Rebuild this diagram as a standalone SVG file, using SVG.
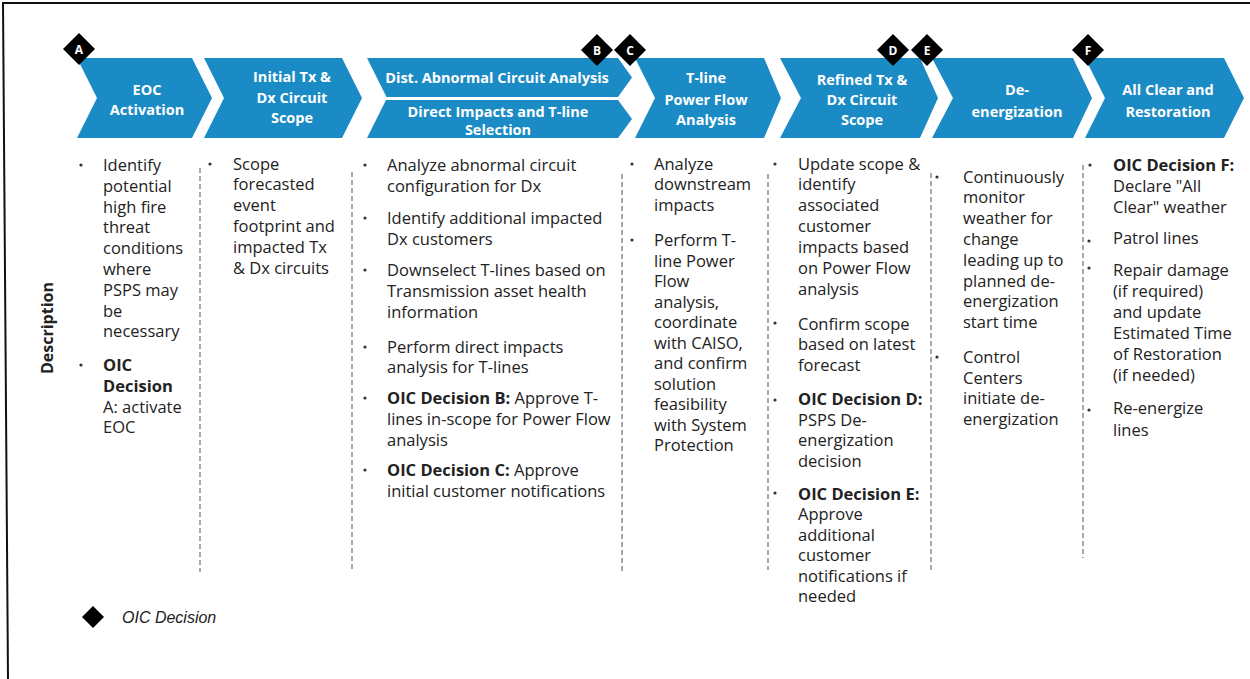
<svg xmlns="http://www.w3.org/2000/svg" width="1250" height="679" viewBox="0 0 1250 679">
  <style>
    .chev { fill: #1a8bc5; }
    .title { font-family: "Open Sans", "Noto Sans", sans-serif; font-weight: 700; font-size: 14.5px; fill: #ffffff; text-anchor: middle; }
    .body { font-family: "Open Sans", "Noto Sans", sans-serif; font-size: 16.5px; fill: #222222; }
    .bold { font-weight: 700; }
    .dot { fill: #333333; }
    .sep { stroke: #7a7a7a; stroke-width: 1.3; stroke-dasharray: 5 3; fill: none; }
    .dia { fill: #000000; }
    .dlabel { font-family: "Open Sans", "Noto Sans", sans-serif; font-weight: 700; font-size: 12px; fill: #ffffff; text-anchor: middle; }
    .side { font-family: "Open Sans", "Noto Sans", sans-serif; font-weight: 700; font-size: 16px; fill: #222222; text-anchor: middle; }
    .legend { font-family: "Liberation Sans", Arial, sans-serif; font-style: italic; font-size: 16px; fill: #222222; }
  </style>
  <defs>
    <path id="diamond" d="M0,-16 L16,0 L0,16 L-16,0 Z"/>
  </defs>

  <rect width="1250" height="679" fill="#ffffff"/>
  <!-- outer frame (top and left edges only) -->
  <polyline points="8,679 3,3 1250,3" fill="none" stroke="#111111" stroke-width="2"/>

  <!-- dashed column separators -->
  <g id="connectors">
    <line class="sep" x1="200" y1="168" x2="200" y2="572"/>
    <line class="sep" x1="352" y1="172" x2="352" y2="572"/>
    <line class="sep" x1="622" y1="174" x2="622" y2="572"/>
    <line class="sep" x1="768" y1="174" x2="768" y2="570"/>
    <line class="sep" x1="931" y1="173" x2="931" y2="570"/>
    <line class="sep" x1="1083" y1="165" x2="1083" y2="558"/>
  </g>

  <!-- phase chevrons -->
  <g id="eoc-activation">
    <polygon class="chev" points="77,58 192,58 212,98 192,138 77,138 97,98"/>
    <text class="title" x="147" y="95">EOC</text>
    <text class="title" x="147" y="115">Activation</text>
  </g>
  <g id="initial-scope">
    <polygon class="chev" points="204,58 342,58 362,98 342,138 204,138 224,98"/>
    <text class="title" x="292" y="82">Initial Tx &amp;</text>
    <text class="title" x="292" y="103">Dx Circuit</text>
    <text class="title" x="292" y="123">Scope</text>
  </g>
  <g id="dist-abnormal">
    <polygon class="chev" points="367,58 618,58 632,77.5 618,97 386.5,97"/>
    <text class="title" x="497" y="83">Dist. Abnormal Circuit Analysis</text>
  </g>
  <g id="direct-impacts">
    <polygon class="chev" points="386,100 618,100 632,119 618,138 367,138"/>
    <text class="title" x="498" y="117">Direct Impacts and T-line</text>
    <text class="title" x="498" y="135">Selection</text>
  </g>
  <g id="power-flow">
    <polygon class="chev" points="635,58 764,58 781,98 764,138 635,138 655,98"/>
    <text class="title" x="706" y="83">T-line</text>
    <text class="title" x="706" y="105">Power Flow</text>
    <text class="title" x="706" y="125">Analysis</text>
  </g>
  <g id="refined-scope">
    <polygon class="chev" points="780,58 920,58 938,98 920,138 780,138 801,98"/>
    <text class="title" x="862" y="85">Refined Tx &amp;</text>
    <text class="title" x="862" y="105">Dx Circuit</text>
    <text class="title" x="862" y="125">Scope</text>
  </g>
  <g id="de-energization">
    <polygon class="chev" points="932,58 1073,58 1092,98 1073,138 932,138 953,98"/>
    <text class="title" x="1017" y="95">De-</text>
    <text class="title" x="1017" y="117">energization</text>
  </g>
  <g id="all-clear">
    <polygon class="chev" points="1085,58 1224,58 1244,98 1224,138 1085,138 1105,98"/>
    <text class="title" x="1168" y="95">All Clear and</text>
    <text class="title" x="1168" y="117">Restoration</text>
  </g>

  <!-- decision markers -->
  <g id="decision-a"><use href="#diamond" class="dia" x="79" y="49"/><text class="dlabel" x="79" y="53.5">A</text></g>
  <g id="decision-b"><use href="#diamond" class="dia" x="597" y="50"/><text class="dlabel" x="597" y="54.5">B</text></g>
  <g id="decision-c"><use href="#diamond" class="dia" x="630" y="50"/><text class="dlabel" x="630" y="54.5">C</text></g>
  <g id="decision-d"><use href="#diamond" class="dia" x="893" y="50"/><text class="dlabel" x="893" y="54.5">D</text></g>
  <g id="decision-e"><use href="#diamond" class="dia" x="927" y="50"/><text class="dlabel" x="927" y="54.5">E</text></g>
  <g id="decision-f"><use href="#diamond" class="dia" x="1088" y="50"/><text class="dlabel" x="1088" y="54.5">F</text></g>

  <!-- row label -->
  <text class="side" transform="translate(53,328) rotate(-90)">Description</text>

  <!-- column 1 -->
  <g id="desc-eoc" class="body">
    <circle class="dot" cx="81" cy="165" r="1.6"/>
    <circle class="dot" cx="81" cy="365" r="1.6"/>
    <text x="103" y="171">Identify</text>
    <text x="103" y="191.8">potential</text>
    <text x="103" y="212.6">high fire</text>
    <text x="103" y="233.4">threat</text>
    <text x="103" y="254.2">conditions</text>
    <text x="103" y="275">where</text>
    <text x="103" y="295.8">PSPS may</text>
    <text x="103" y="316.6">be</text>
    <text x="103" y="337.4">necessary</text>
    <text x="103" y="371" class="bold">OIC</text>
    <text x="103" y="391.8" class="bold">Decision</text>
    <text x="103" y="412.6">A: activate</text>
    <text x="103" y="433.4">EOC</text>
  </g>

  <!-- column 2 -->
  <g id="desc-initial" class="body">
    <circle class="dot" cx="210" cy="164" r="1.6"/>
    <text x="233" y="169.5">Scope</text>
    <text x="233" y="190.4">forecasted</text>
    <text x="233" y="211.3">event</text>
    <text x="233" y="232.2">footprint and</text>
    <text x="233" y="253.1">impacted Tx</text>
    <text x="233" y="274">&amp; Dx circuits</text>
  </g>

  <!-- column 3 -->
  <g id="desc-dist" class="body">
    <circle class="dot" cx="365" cy="165" r="1.6"/>
    <circle class="dot" cx="365" cy="218" r="1.6"/>
    <circle class="dot" cx="365" cy="270" r="1.6"/>
    <circle class="dot" cx="365" cy="347" r="1.6"/>
    <circle class="dot" cx="365" cy="398" r="1.6"/>
    <circle class="dot" cx="365" cy="470" r="1.6"/>
    <text x="387" y="171">Analyze abnormal circuit</text>
    <text x="387" y="192">configuration for Dx</text>
    <text x="387" y="223.5">Identify additional impacted</text>
    <text x="387" y="244.5">Dx customers</text>
    <text x="387" y="276">Downselect T-lines based on</text>
    <text x="387" y="297">Transmission asset health</text>
    <text x="387" y="318">information</text>
    <text x="387" y="352.5">Perform direct impacts</text>
    <text x="387" y="373">analysis for T-lines</text>
    <text x="387" y="404"><tspan class="bold">OIC Decision B:</tspan> Approve T-</text>
    <text x="387" y="425">lines in-scope for Power Flow</text>
    <text x="387" y="446">analysis</text>
    <text x="387" y="476"><tspan class="bold">OIC Decision C:</tspan> Approve</text>
    <text x="387" y="497">initial customer notifications</text>
  </g>

  <!-- column 4 -->
  <g id="desc-powerflow" class="body">
    <circle class="dot" cx="632" cy="164" r="1.6"/>
    <circle class="dot" cx="632" cy="240" r="1.6"/>
    <text x="654" y="169.5">Analyze</text>
    <text x="654" y="190.4">downstream</text>
    <text x="654" y="211.3">impacts</text>
    <text x="654" y="246">Perform T-</text>
    <text x="654" y="266.5">line Power</text>
    <text x="654" y="287">Flow</text>
    <text x="654" y="307.5">analysis,</text>
    <text x="654" y="328">coordinate</text>
    <text x="654" y="348.5">with CAISO,</text>
    <text x="654" y="369">and confirm</text>
    <text x="654" y="389.5">solution</text>
    <text x="654" y="410">feasibility</text>
    <text x="654" y="430.5">with System</text>
    <text x="654" y="451">Protection</text>
  </g>

  <!-- column 5 -->
  <g id="desc-refined" class="body">
    <circle class="dot" cx="775" cy="164" r="1.6"/>
    <circle class="dot" cx="775" cy="323" r="1.6"/>
    <circle class="dot" cx="775" cy="400" r="1.6"/>
    <circle class="dot" cx="775" cy="493" r="1.6"/>
    <text x="798" y="169.5">Update scope &amp;</text>
    <text x="798" y="190.4">identify</text>
    <text x="798" y="211.3">associated</text>
    <text x="798" y="232.2">customer</text>
    <text x="798" y="253.1">impacts based</text>
    <text x="798" y="274">on Power Flow</text>
    <text x="798" y="294.9">analysis</text>
    <text x="798" y="329.5">Confirm scope</text>
    <text x="798" y="350.4">based on latest</text>
    <text x="798" y="371">forecast</text>
    <text x="798" y="405" class="bold">OIC Decision D:</text>
    <text x="798" y="425.5">PSPS De-</text>
    <text x="798" y="446">energization</text>
    <text x="798" y="466.5">decision</text>
    <text x="798" y="499.5" class="bold">OIC Decision E:</text>
    <text x="798" y="520">Approve</text>
    <text x="798" y="540.5">additional</text>
    <text x="798" y="561">customer</text>
    <text x="798" y="581.5">notifications if</text>
    <text x="798" y="602">needed</text>
  </g>

  <!-- column 6 -->
  <g id="desc-deenergize" class="body">
    <circle class="dot" cx="937" cy="177" r="1.6"/>
    <circle class="dot" cx="937" cy="357" r="1.6"/>
    <text x="963" y="182.5">Continuously</text>
    <text x="963" y="203.3">monitor</text>
    <text x="963" y="224.1">weather for</text>
    <text x="963" y="244.9">change</text>
    <text x="963" y="265.7">leading up to</text>
    <text x="963" y="286.5">planned de-</text>
    <text x="963" y="307.3">energization</text>
    <text x="963" y="328.1">start time</text>
    <text x="963" y="362.7">Control</text>
    <text x="963" y="383.5">Centers</text>
    <text x="963" y="404.3">initiate de-</text>
    <text x="963" y="425.1">energization</text>
  </g>

  <!-- column 7 -->
  <g id="desc-allclear" class="body">
    <circle class="dot" cx="1090" cy="165" r="1.6"/>
    <circle class="dot" cx="1089" cy="241" r="1.6"/>
    <circle class="dot" cx="1089" cy="268" r="1.6"/>
    <circle class="dot" cx="1089" cy="410" r="1.6"/>
    <text x="1113" y="171" class="bold">OIC Decision F:</text>
    <text x="1113" y="191.7">Declare "All</text>
    <text x="1113" y="212.7">Clear" weather</text>
    <text x="1113" y="244.3">Patrol lines</text>
    <text x="1113" y="276">Repair damage</text>
    <text x="1113" y="297">(if required)</text>
    <text x="1113" y="318">and update</text>
    <text x="1113" y="339">Estimated Time</text>
    <text x="1113" y="360">of Restoration</text>
    <text x="1113" y="381">(if needed)</text>
    <text x="1113" y="414.3">Re-energize</text>
    <text x="1113" y="436">lines</text>
  </g>

  <!-- legend -->
  <g id="legend">
    <path class="dia" d="M93,606 L104,617 L93,628 L82,617 Z"/>
    <text class="legend" x="122" y="623">OIC Decision</text>
  </g>
</svg>
